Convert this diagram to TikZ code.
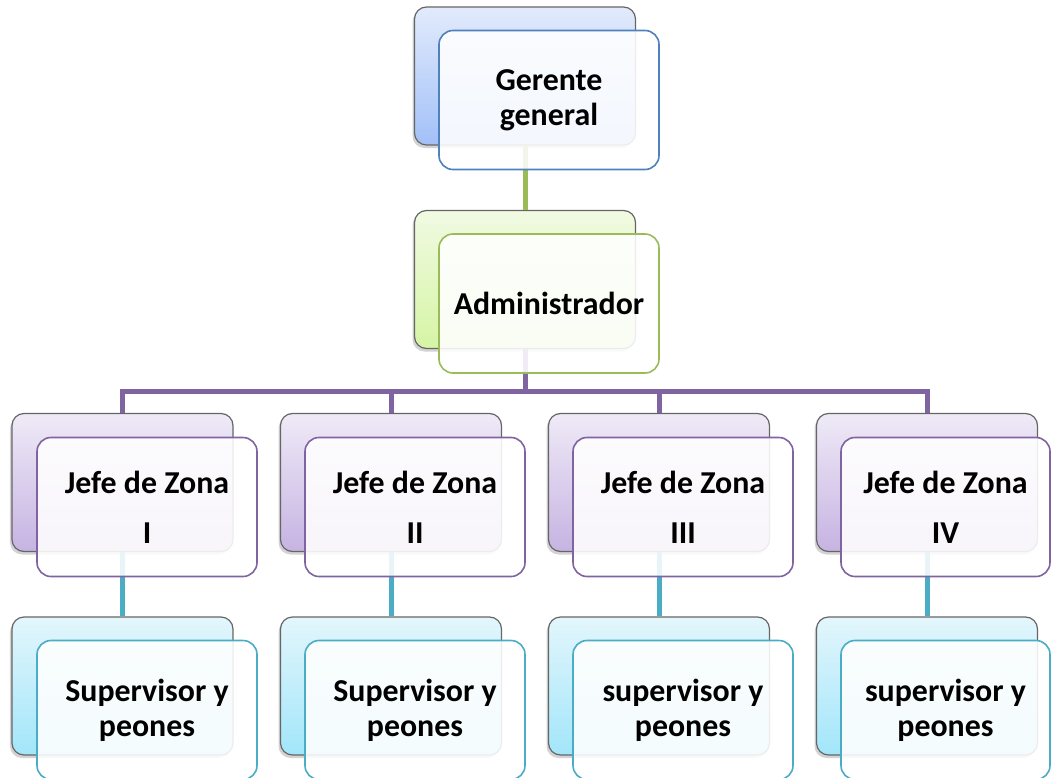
\documentclass[tikz,border=0pt]{standalone}
\usepackage{fontspec}
\setmainfont{Carlito}
\usetikzlibrary{shadows}
\definecolor{cBlue}{HTML}{4F81BD}
\definecolor{cGreen}{HTML}{9BBB59}
\definecolor{cPurple}{HTML}{8064A2}
\definecolor{cCyan}{HTML}{4BACC6}
\definecolor{bBlueT}{HTML}{E2EBFC}
\definecolor{bBlueB}{HTML}{A2C0F8}
\definecolor{bGreenT}{HTML}{F1FAE3}
\definecolor{bGreenB}{HTML}{D5F5A4}
\definecolor{bPurpleT}{HTML}{EFEAF7}
\definecolor{bPurpleB}{HTML}{C6B3E2}
\definecolor{bCyanT}{HTML}{E3F6FC}
\definecolor{bCyanB}{HTML}{A2E6FA}
\tikzset{
  backbox/.style={rectangle, rounded corners=12bp, minimum width=221bp, minimum height=138bp,
    inner sep=0pt, draw=gray!80!black, line width=1.2bp,
    drop shadow={shadow xshift=-2bp, shadow yshift=-3bp, opacity=0.35}},
  frontbox/.style={rectangle, rounded corners=14bp, minimum width=220bp, minimum height=139bp,
    inner sep=0pt, line width=1.6bp, fill=white, fill opacity=0.88, text opacity=1,
    align=center, font=\fontsize{32}{35}\selectfont\bfseries},
  link/.style={line width=5bp}
}
\begin{document}
\begin{tikzpicture}[x=1bp,y=-1bp]
\useasboundingbox (0,0) rectangle (1051,778);
% back boxes
\node[backbox, top color=bBlueT, bottom color=bBlueB] (gb) at (525,76) {};
\node[backbox, top color=bGreenT, bottom color=bGreenB] (ab) at (525,279.5) {};
\foreach \i/\x in {1/122.5,2/391,3/659,4/927}{
  \node[backbox, top color=bPurpleT, bottom color=bPurpleB] (j\i b) at (\x,482.5) {};
  \node[backbox, top color=bCyanT, bottom color=bCyanB] (s\i b) at (\x,686) {};
}
% connectors (behind front boxes)
\draw[link, cGreen] (gb.south) -- (ab.north);
\coordinate (bus) at (525,392);
\draw[link, cPurple] (ab.south) -- (bus);
\draw[link, cPurple, line join=miter] (j1b.north) -- ++(0,-21) -| (j4b.north);
\draw[link, cPurple] (j2b.north) -- ++(0,-21);
\draw[link, cPurple] (j3b.north) -- ++(0,-21);
\foreach \i in {1,2,3,4}{
  \draw[link, cCyan] (j\i b.south) -- (s\i b.north);
}
% front boxes
\node[frontbox, draw=cBlue] (gf) at (549,100) {Gerente\\general};
\node[frontbox, draw=cGreen] (af) at (549,303.5) {Administrador};
\node[frontbox, draw=cPurple] (j1f) at (147,507) {Jefe de Zona\\[15bp] I};
\node[frontbox, draw=cPurple] (j2f) at (415,507) {Jefe de Zona\\[15bp] II};
\node[frontbox, draw=cPurple] (j3f) at (683,507) {Jefe de Zona\\[15bp] III};
\node[frontbox, draw=cPurple, minimum width=209bp] (j4f) at (945.5,507) {Jefe de Zona\\[15bp] IV};
\node[frontbox, draw=cCyan] (s1f) at (147,710) {Supervisor y\\peones};
\node[frontbox, draw=cCyan] (s2f) at (415,710) {Supervisor y\\peones};
\node[frontbox, draw=cCyan] (s3f) at (683,710) {supervisor y\\peones};
\node[frontbox, draw=cCyan, minimum width=209bp] (s4f) at (945.5,710) {supervisor y\\peones};
\end{tikzpicture}
\end{document}
